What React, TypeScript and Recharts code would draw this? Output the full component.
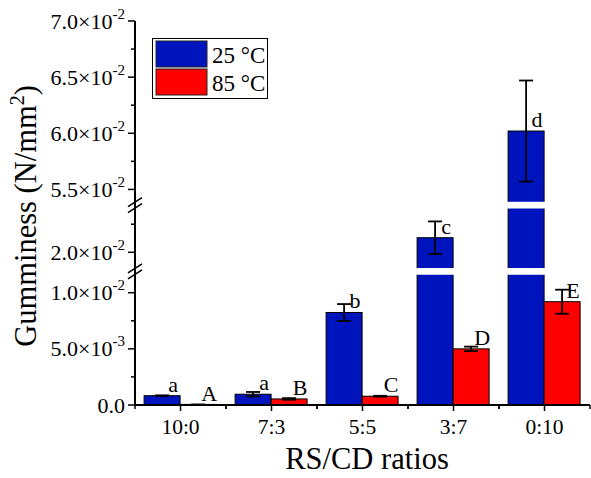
import { BarChart, Bar, XAxis, YAxis, ErrorBar, LabelList } from 'recharts';

const ratios = ['10:0', '7:3', '5:5', '3:7', '0:10'];
const gum25 = [0.00083, 0.00096, 0.00824, 0.0213, 0.0602];
const err25 = [0.00003, 0.0002, 0.00075, 0.00145, 0.0045];
const gum85 = [0.00003, 0.00054, 0.00078, 0.005, 0.0092];
const err85 = [0, 0.00007, 0.00004, 0.0002, 0.00107];
const letters25 = ['a', 'a', 'b', 'c', 'd'];
const letters85 = ['A', 'B', 'C', 'D', 'E'];

const majorTicks = [0, 0.005, 0.01, 0.02, 0.055, 0.06, 0.065, 0.07];
const minorTicks = [0.0025, 0.0075, 0.0225, 0.0575, 0.0625, 0.0675];

// broken y axis: values between from and to are cut out, leaving a small GAP
const breaks = [
  { from: 0.0116, to: 0.0186 },
  { from: 0.0239, to: 0.0539 },
];
const GAP = 0.0006;
const Y_MAX = 0.07;

const FONT = 'Liberation Serif';
const BLUE = '#0014BE';
const RED = '#FF0000';
const PLOT_W = 455;

function toAxis(v: number) {
  let shift = 0;
  for (const b of breaks) {
    if (v >= b.to) shift += b.to - b.from - GAP;
  }
  return v - shift;
}

const TOP = toAxis(Y_MAX);

const errRange = (v: number, e: number) => [toAxis(v) - toAxis(v - e), toAxis(v + e) - toAxis(v)];

const data = ratios.map((name, i) => ({
  name,
  v25: toAxis(gum25[i]),
  e25: errRange(gum25[i], err25[i]),
  l25: letters25[i],
  v85: toAxis(gum85[i]),
  e85: errRange(gum85[i], err85[i]),
  l85: letters85[i],
}));

type TickInfo = { pos: number; kind: 'major' | 'minor' | 'break'; value: number };
const yTicks: TickInfo[] = [
  ...majorTicks.map((v) => ({ pos: toAxis(v), kind: 'major' as const, value: v })),
  ...minorTicks.map((v) => ({ pos: toAxis(v), kind: 'minor' as const, value: v })),
  ...breaks.map((b) => ({ pos: toAxis(b.from) + GAP / 2, kind: 'break' as const, value: b.from })),
];

function sci(v: number) {
  if (v === 0) return { m: '0.0', e: null as string | null };
  const e = Math.floor(Math.log10(v) + 1e-9);
  const m = (v / Math.pow(10, e)).toFixed(1);
  return { m, e: String(e) };
}

function YTick(props: any) {
  const { x, y, payload } = props;
  const t = yTicks.find((k) => Math.abs(k.pos - payload.value) < 1e-9);
  if (!t) return null;
  if (t.kind === 'break') {
    return (
      <g stroke="#000" strokeWidth={1.6}>
        <line x1={x - 7} y1={y + 1.5} x2={x + 7} y2={y - 7.5} />
        <line x1={x - 7} y1={y + 7.5} x2={x + 7} y2={y - 1.5} />
      </g>
    );
  }
  if (t.kind === 'minor') {
    return <line x1={x - 4} y1={y} x2={x} y2={y} stroke="#000" strokeWidth={1.5} />;
  }
  const { m, e } = sci(t.value);
  return (
    <g>
      <line x1={x - 7} y1={y} x2={x} y2={y} stroke="#000" strokeWidth={1.5} />
      <text x={x - 10} y={y + 7.5} textAnchor="end" fontFamily={FONT} fontSize={22} fill="#000">
        {m}
        {e !== null && (
          <>
            {'\u00d710'}
            <tspan dy={-10} fontSize={15}>{e}</tspan>
          </>
        )}
      </text>
    </g>
  );
}

function XTick(props: any) {
  const { x, y, payload } = props;
  const half = PLOT_W / ratios.length / 2;
  return (
    <g>
      <line x1={x} y1={y} x2={x} y2={y + 6} stroke="#000" strokeWidth={1.5} />
      <line x1={x - half} y1={y} x2={x - half} y2={y + 4} stroke="#000" strokeWidth={1.5} />
      <line x1={x + half} y1={y} x2={x + half} y2={y + 4} stroke="#000" strokeWidth={1.5} />
      <text x={x} y={y + 29} textAnchor="middle" fontFamily={FONT} fontSize={21.5} fill="#000">
        {payload.value}
      </text>
    </g>
  );
}

function BrokenBar(props: any) {
  const { x, y, width, height, fill, background } = props;
  if (width == null || y == null) return null;
  const h = Math.max(height || 0, 0.6);
  const bottom = y + (height || 0);
  const pxPer = background && background.height ? background.height / TOP : 384 / TOP;
  const topVal = (height || 0) / pxPer;
  return (
    <g>
      <rect x={x} y={bottom - h} width={width} height={h} fill={fill} stroke="#000" strokeWidth={1} />
      {breaks.map((b, i) => {
        const s = toAxis(b.from);
        if (topVal <= s) return null;
        return (
          <rect
            key={i}
            x={x - 1}
            y={bottom - (s + GAP) * pxPer}
            width={width + 2}
            height={GAP * pxPer}
            fill="#fff"
          />
        );
      })}
    </g>
  );
}

const letterLabel = (p: any) => {
  const vb = p.viewBox || p;
  const x = vb.x ?? p.x;
  const y = vb.y ?? p.y;
  const w = vb.width ?? p.width;
  return (
    <text x={x + w / 2 + 11} y={y - 4} textAnchor="middle" fontFamily={FONT} fontSize={22} fill="#000">
      {p.value}
    </text>
  );
};

export default function App() {
  return (
    <div style={{ position: 'absolute', left: 0, top: 0, width: 591, height: 478, background: '#fff' }}>
      <BarChart
        width={591}
        height={478}
        data={data}
        margin={{ top: 21, right: 1, bottom: 0, left: 0 }}
        barCategoryGap="10%"
        barGap={0}
      >
        <XAxis
          dataKey="name"
          height={73}
          tick={XTick}
          tickLine={false}
          tickSize={0}
          tickMargin={0}
          axisLine={{ stroke: '#000', strokeWidth: 2 }}
          interval={0}
          label={{
            content: () => (
              <text x={367} y={469} textAnchor="middle" fontFamily={FONT} fontSize={30.5} fill="#000">
                RS/CD ratios
              </text>
            ),
          }}
        />
        <XAxis
          xAxisId="t"
          orientation="top"
          dataKey="name"
          height={0}
          tick={false}
          tickLine={false}
          axisLine={{ stroke: '#000', strokeWidth: 1.5 }}
        />
        <YAxis
          type="number"
          width={135}
          domain={[0, TOP]}
          ticks={yTicks.map((t) => t.pos)}
          interval={0}
          tick={YTick}
          tickLine={false}
          tickSize={0}
          tickMargin={0}
          axisLine={{ stroke: '#000', strokeWidth: 2 }}
          label={{
            content: () => (
              <text
                transform="translate(36,216) rotate(-90)"
                textAnchor="middle"
                fontFamily={FONT}
                fontSize={30.5}
                fill="#000"
              >
                Gumminess (N/mm<tspan dy={-12} fontSize={20}>2</tspan>
                <tspan dy={12}>)</tspan>
              </text>
            ),
          }}
        />
        <YAxis
          yAxisId="r"
          orientation="right"
          type="number"
          width={0}
          domain={[0, TOP]}
          tick={false}
          tickLine={false}
          axisLine={{ stroke: '#000', strokeWidth: 1.5 }}
        />
        <Bar dataKey="v25" fill={BLUE} isAnimationActive={false} shape={(p: any) => <BrokenBar {...p} fill={BLUE} />}>
          <ErrorBar dataKey="e25" width={7} stroke="#000" strokeWidth={1.8} />
          <LabelList dataKey="l25" content={letterLabel} />
        </Bar>
        <Bar dataKey="v85" fill={RED} isAnimationActive={false} shape={(p: any) => <BrokenBar {...p} fill={RED} />}>
          <ErrorBar dataKey="e85" width={7} stroke="#000" strokeWidth={1.8} />
          <LabelList dataKey="l85" content={letterLabel} />
        </Bar>
      </BarChart>
      <div
        style={{
          position: 'absolute',
          left: 152,
          top: 38,
          width: 116,
          height: 61,
          border: '1px solid #000',
          boxSizing: 'border-box',
          background: '#fff',
        }}
      >
        <svg width={114} height={59} style={{ display: 'block' }}>
          <rect x={3} y={2} width={51} height={26} fill={BLUE} stroke="#222" strokeWidth={1} />
          <rect x={3} y={30} width={51} height={26} fill={RED} stroke="#222" strokeWidth={1} />
          <text x={59} y={24} fontFamily={FONT} fontSize={23} fill="#000">25 °C</text>
          <text x={59} y={52} fontFamily={FONT} fontSize={23} fill="#000">85 °C</text>
        </svg>
      </div>
    </div>
  );
}
